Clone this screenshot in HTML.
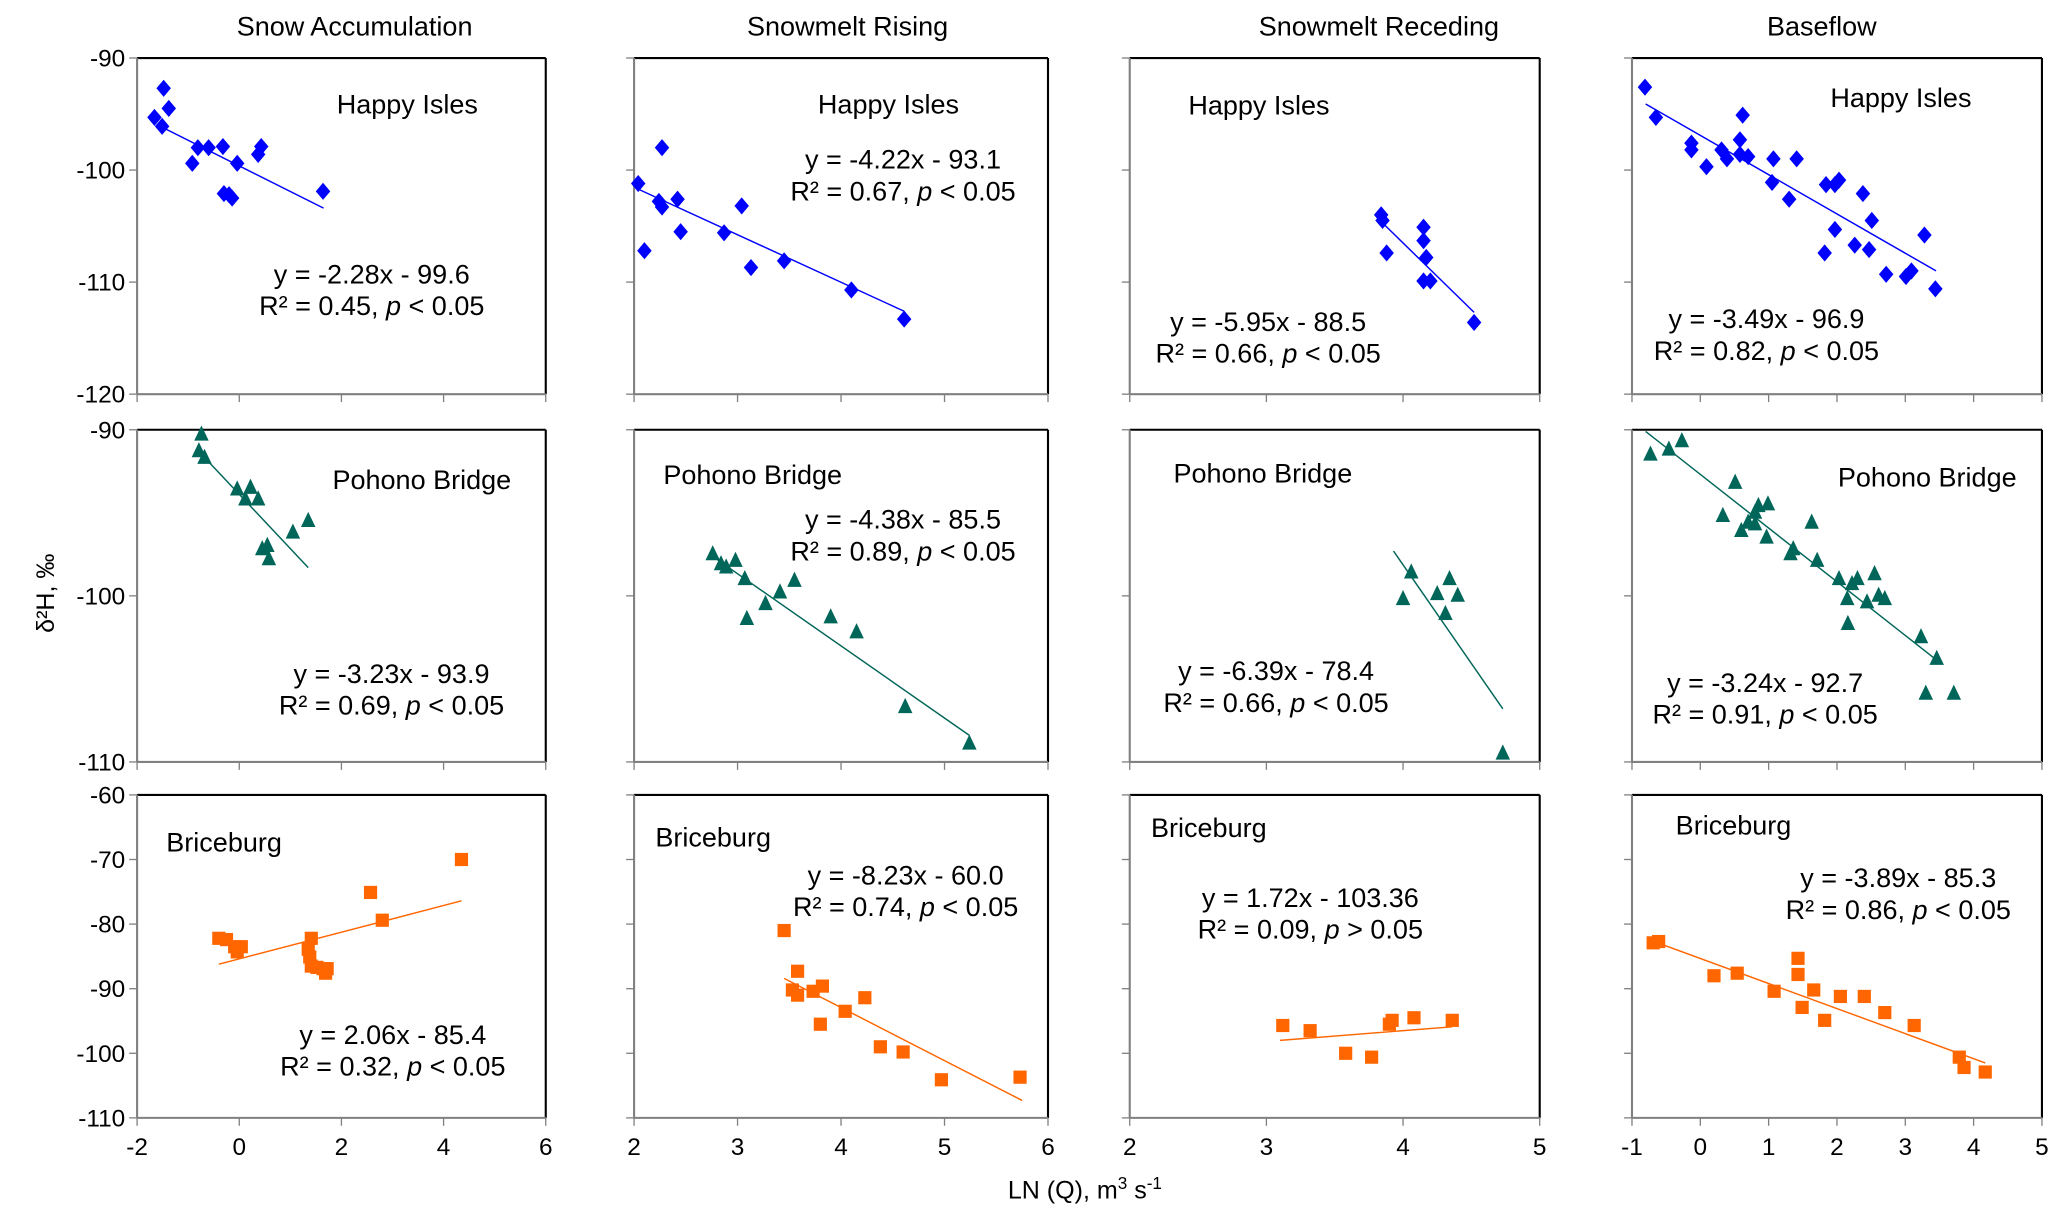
<!DOCTYPE html>
<html><head><meta charset="utf-8"><style>
html,body{margin:0;padding:0;background:#fff;}
svg{display:block;font-family:"Liberation Sans",Arial,sans-serif;}
</style></head><body>
<svg id="fig" width="2067" height="1224" viewBox="0 0 1568 928.5" xmlns="http://www.w3.org/2000/svg">
<rect x="0" y="0" width="1568" height="928.5" fill="#fff"/>
<text x="269" y="27" font-size="20.5" text-anchor="middle">Snow Accumulation</text>
<text x="643" y="27" font-size="20.5" text-anchor="middle">Snowmelt Rising</text>
<text x="1046" y="27" font-size="20.5" text-anchor="middle">Snowmelt Receding</text>
<text x="1382" y="27" font-size="20.5" text-anchor="middle">Baseflow</text>
<text x="0" y="0" font-size="19" text-anchor="middle" transform="translate(41,450) rotate(-90)">δ²H, ‰</text>
<text x="823" y="909" font-size="19" text-anchor="middle">LN (Q), m<tspan font-size="13" dy="-7">3</tspan><tspan dy="7"> s</tspan><tspan font-size="13" dy="-7">-1</tspan></text>
<g id="plots"></g>
</svg>
<script>
// ---- data (x = LN(Q), y = δ2H) ----
const hiAccX=[-1.66,-1.48,-1.38,-1.51,-0.81,-0.92,-0.6,-0.32,-0.04,-0.3,-0.2,-0.14,0.37,0.43,1.64];
const hiAccY=[-95.3,-92.7,-94.5,-96.1,-98.0,-99.4,-98.0,-97.9,-99.4,-102.1,-102.2,-102.5,-98.6,-97.9,-101.9];
const hiRisX=[2.04,2.1,2.27,2.24,2.27,2.42,2.45,2.87,3.04,3.13,3.45,4.1,4.61];
const hiRisY=[-101.2,-107.2,-98.0,-102.8,-103.3,-102.6,-105.5,-105.6,-103.2,-108.7,-108.1,-110.7,-113.3];
const hiRecX=[3.84,3.85,3.88,4.15,4.15,4.17,4.15,4.2,4.52];
const hiRecY=[-104.0,-104.5,-107.4,-105.1,-106.3,-107.8,-109.9,-109.9,-113.6];
const hiBasX=[-0.81,-0.65,-0.13,-0.13,0.09,0.31,0.39,0.62,0.58,0.58,0.7,1.07,1.05,1.41,1.3,1.84,1.97,2.03,1.82,1.97,2.26,2.38,2.51,2.47,2.72,3.01,3.09,3.28,3.44];
const hiBasY=[-92.6,-95.3,-97.6,-98.2,-99.7,-98.2,-99.0,-95.1,-97.3,-98.6,-98.8,-99.0,-101.1,-99.0,-102.6,-101.3,-101.3,-100.9,-107.4,-105.3,-106.7,-102.1,-104.5,-107.1,-109.3,-109.5,-109.0,-105.8,-110.6];
const pbAccX=[-0.74,-0.79,-0.68,-0.04,0.22,0.12,0.37,1.05,1.35,0.45,0.55,0.58];
const pbAccY=[-90.3,-91.3,-91.7,-93.6,-93.5,-94.2,-94.2,-96.2,-95.5,-97.2,-97.0,-97.8];
const pbRisX=[2.76,2.84,2.89,2.98,3.07,3.27,3.09,3.41,3.55,3.9,4.15,4.62,5.24];
const pbRisY=[-97.5,-98.1,-98.3,-97.9,-99.0,-100.5,-101.4,-99.8,-99.1,-101.3,-102.2,-106.7,-108.9];
const pbRecX=[4.0,4.06,4.25,4.34,4.4,4.31,4.73];
const pbRecY=[-100.2,-98.6,-99.9,-99.0,-100.0,-101.1,-109.5];
const pbBasX=[-0.73,-0.46,-0.27,0.51,0.33,0.6,0.7,0.8,0.85,0.99,0.8,0.97,1.36,1.32,1.63,1.71,2.03,2.15,2.22,2.3,2.16,2.44,2.55,2.61,2.7,3.23,3.46,3.3,3.71];
const pbBasY=[-91.5,-91.2,-90.7,-93.2,-95.2,-96.1,-95.6,-95.0,-94.6,-94.5,-95.7,-96.5,-97.2,-97.5,-95.6,-97.9,-99.0,-100.2,-99.3,-99.0,-101.7,-100.4,-98.7,-100.0,-100.2,-102.5,-103.8,-105.9,-105.9];
const brAccX=[-0.4,-0.25,-0.09,0.04,-0.04,1.41,1.35,1.38,1.41,1.52,1.64,1.72,1.69,2.57,2.8,4.35];
const brAccY=[-82.2,-82.4,-83.5,-83.5,-84.3,-82.2,-83.9,-85.1,-86.5,-86.7,-86.9,-86.9,-87.6,-75.1,-79.4,-70.0];
const brRisX=[3.45,3.58,3.53,3.58,3.73,3.82,3.8,4.04,4.23,4.38,4.6,4.97,5.73];
const brRisY=[-81.0,-87.3,-90.2,-91.0,-90.4,-89.6,-95.5,-93.5,-91.4,-99.0,-99.8,-104.1,-103.7];
const brRecX=[3.12,3.32,3.58,3.77,3.9,3.92,4.08,4.36];
const brRecY=[-95.7,-96.5,-100.0,-100.6,-95.5,-94.9,-94.5,-94.9];
const brBasX=[-0.69,-0.61,0.2,0.54,1.08,1.43,1.43,1.49,1.66,1.82,2.05,2.4,2.7,3.13,3.79,3.86,4.17];
const brBasY=[-82.9,-82.7,-88.0,-87.6,-90.4,-85.3,-87.8,-92.9,-90.2,-94.9,-91.2,-91.2,-93.7,-95.7,-100.6,-102.2,-102.9];
// regression slope / intercept (printed) per panel (row-major)
const slopes=[-2.28,-4.22,-5.95,-3.49,-3.23,-4.38,-6.39,-3.24,2.06,-8.23,1.72,-3.89];
const intercepts=[-99.6,-93.1,-88.5,-96.9,-93.9,-85.5,-78.4,-92.7,-85.4,-60.0,-103.36,-85.3];
// drawn trend-line endpoints (as seen on the chart)
const fitX0=[-1.5,2.04,3.84,-0.8,-0.7,2.8,3.93,-0.8,-0.4,3.45,3.1,-0.65];
const fitX1=[1.65,4.61,4.52,3.45,1.35,5.24,4.73,3.5,4.35,5.75,4.36,4.17];
const fitY0=[-96.2,-101.7,-104.6,-94.1,-91.6,-97.8,-97.3,-90.1,-86.2,-88.4,-98.0,-82.8];
const fitY1=[-103.4,-112.6,-112.7,-109.0,-98.3,-108.4,-106.8,-104.0,-76.4,-107.3,-95.9,-101.5];
const r2Labels=["0.45","0.67","0.66","0.82","0.69","0.89","0.66","0.91","0.32","0.74","0.09","0.86"];
const pSigns=["<","<","<","<","<","<","<","<","<","<",">","<"];
// tick labels
const xTicksCol=[[-2,0,2,4,6],[2,3,4,5,6],[2,3,4,5],[-1,0,1,2,3,4,5]];
const yTicksRow=[[-90,-100,-110,-120],[-90,-100,-110],[-60,-70,-80,-90,-100,-110]];
const siteNames=["Happy Isles","Pohono Bridge","Briceburg"];

const allX=[hiAccX,hiRisX,hiRecX,hiBasX,pbAccX,pbRisX,pbRecX,pbBasX,brAccX,brRisX,brRecX,brBasX];
const allY=[hiAccY,hiRisY,hiRecY,hiBasY,pbAccY,pbRisY,pbRecY,pbBasY,brAccY,brRisY,brRecY,brBasY];

// layout
const colBox=[[104,414],[481,795],[857,1168],[1238,1549]];
const rowBox=[[44,299],[326,578],[603,848]];
const colors=["#0000ff","#006659","#ff6600"];
const siteLabelPos=[[309,79],[674,79],[955,80],[1442,74],[320,364],[571,360],[958,359],[1462,362],[170,639],[541,635],[917,628],[1315,626]];
const eqPos=[[282,208],[685,121],[962,244],[1340,242],[297,511],[685,394],[968,509],[1339,518],[298,785],[687,664],[994,681],[1440,666]];
const colNames=["snow-accumulation","snowmelt-rising","snowmelt-receding","baseflow"];
const rowNames=["happy-isles","pohono-bridge","briceburg"];

const NS="http://www.w3.org/2000/svg";
const root=document.getElementById('plots');
function mk(tag,attrs,parent){const e=document.createElementNS(NS,tag);for(const k in attrs)e.setAttribute(k,attrs[k]);parent.appendChild(e);return e;}

for(let r=0;r<3;r++){for(let c=0;c<4;c++){
  const i=r*4+c;
  const [x0,x1]=colBox[c],[y0,y1]=rowBox[r];
  const xt=xTicksCol[c],yt=yTicksRow[r];
  const xmin=Math.min(...xt),xmax=Math.max(...xt),ymax=Math.max(...yt),ymin=Math.min(...yt);
  const sx=v=>x0+(v-xmin)/(xmax-xmin)*(x1-x0);
  const sy=v=>y0+(ymax-v)/(ymax-ymin)*(y1-y0);
  const g=mk('g',{},root);
  
  
  const top=mk('line',{x1:x0,y1:y0,x2:x1,y2:y0,stroke:'#000','stroke-width':1.6},g);
  
  const right=mk('line',{x1:x1,y1:y0,x2:x1,y2:y1,stroke:'#000','stroke-width':1.6},g);
  
  const ya=mk('line',{x1:x0,y1:y0,x2:x0,y2:y1,stroke:'#808080','stroke-width':1.6},g);
  
  const xa=mk('line',{x1:x0,y1:y1,x2:x1,y2:y1,stroke:'#808080','stroke-width':1.6},g);
  
  yt.forEach(v=>{
    const t=mk('line',{x1:x0-6,y1:sy(v),x2:x0,y2:sy(v),stroke:'#808080','stroke-width':1},g);
    
    if(c===0){
      const tl=mk('text',{x:x0-9,y:sy(v)+6.5,'font-size':18.5,'text-anchor':'end'},g);
      tl.textContent=String(v);
      
    }
  });
  xt.forEach(v=>{
    const t=mk('line',{x1:sx(v),y1:y1,x2:sx(v),y2:y1+6,stroke:'#808080','stroke-width':1},g);
    
    if(r===2){
      const tl=mk('text',{x:sx(v),y:y1+28,'font-size':18.5,'text-anchor':'middle'},g);
      tl.textContent=String(v);
      
    }
  });
  const fl=mk('line',{x1:sx(fitX0[i]),y1:sy(fitY0[i]),x2:sx(fitX1[i]),y2:sy(fitY1[i]),stroke:colors[r],'stroke-width':1.1},g);
  
  const xs=allX[i],ys=allY[i];
  for(let k=0;k<xs.length;k++){
    const px=sx(xs[k]),py=sy(ys[k]);let m;
    if(r===0){m=mk('polygon',{points:`${px},${py-6.5} ${px+5.5},${py} ${px},${py+6.5} ${px-5.5},${py}`,fill:colors[r]},g);}
    else if(r===1){m=mk('polygon',{points:`${px},${py-7} ${px+5.5},${py+4.5} ${px-5.5},${py+4.5}`,fill:colors[r]},g);}
    else{m=mk('rect',{x:px-5,y:py-5,width:10,height:10,fill:colors[r]},g);}
    
    
  }
  const sl=mk('text',{x:siteLabelPos[i][0],y:siteLabelPos[i][1]+7,'font-size':20.5,'text-anchor':'middle'},g);
  sl.textContent=siteNames[r];
  
  const b=intercepts[i];
  const bStr=(c===2&&r===2)?Math.abs(b).toFixed(2):Math.abs(b).toFixed(1);
  const eq=mk('text',{x:eqPos[i][0],y:eqPos[i][1]+7,'font-size':20.5,'text-anchor':'middle'},g);
  eq.textContent='y = '+slopes[i].toFixed(2)+'x - '+bStr;
  
  const rr=mk('text',{x:eqPos[i][0],y:eqPos[i][1]+31,'font-size':20.5,'text-anchor':'middle'},g);
  rr.innerHTML='R² = '+r2Labels[i]+', <tspan font-style="italic">p</tspan> '+pSigns[i]+' 0.05';
  
}}
</script>
</body></html>
